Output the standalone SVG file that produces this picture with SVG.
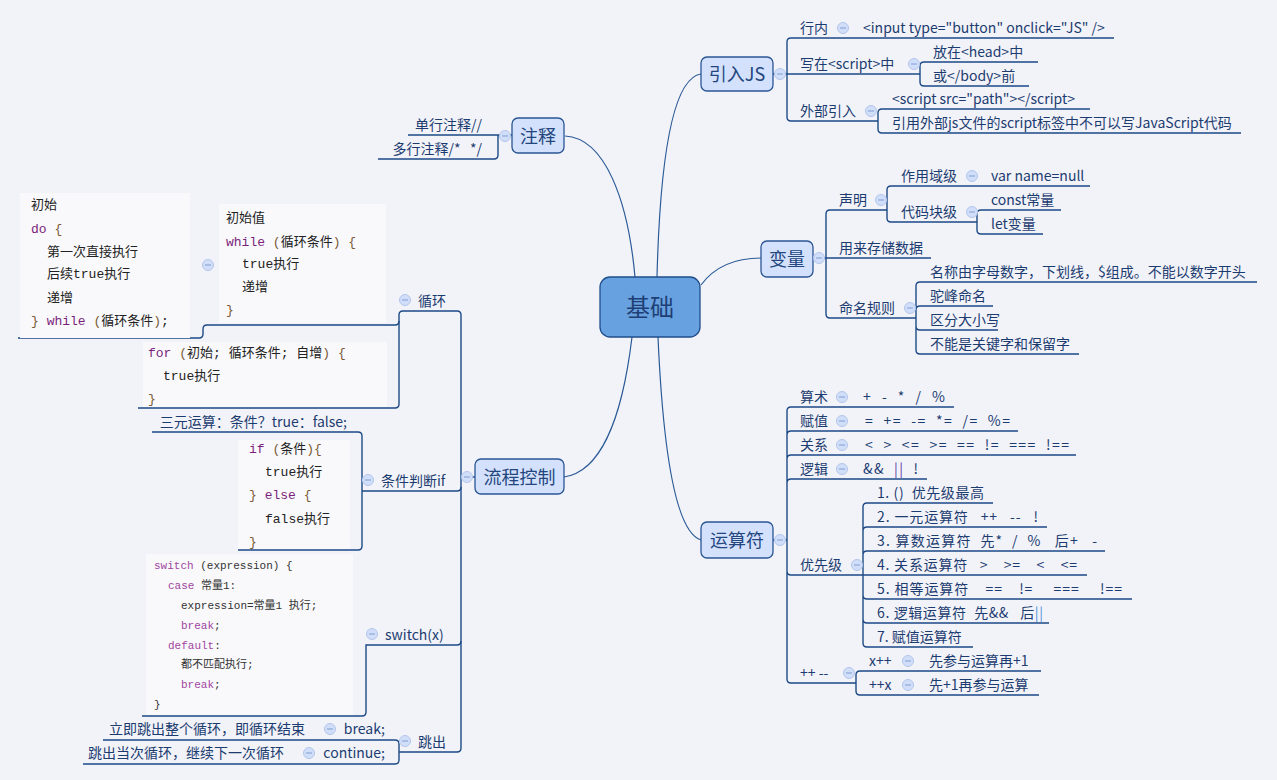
<svg xmlns="http://www.w3.org/2000/svg" width="1277" height="780" viewBox="0 0 1277 780">
<defs>
<style>
.bg{fill:#f2f3f9}
.t{font-family:"Noto Sans CJK SC","Noto Sans",sans-serif;font-size:14px;fill:#1c3c70;white-space:pre}
.e{text-anchor:end}
.m{font-family:"Noto Sans CJK SC","Noto Sans",sans-serif;font-size:18px;fill:#24467e;text-anchor:middle}
.root{font-family:"Noto Sans CJK SC","Noto Sans",sans-serif;font-size:24px;fill:#1e3f75;text-anchor:middle}
.box{fill:#d3e1fc;stroke:#2a5594;stroke-width:1.3}
.rootbox{fill:#68a1df;stroke:#1f4e8c;stroke-width:1.3}
.ln{fill:none;stroke:#1d4a86;stroke-width:1.4}
.cv{fill:none;stroke:#2b5a96;stroke-width:1.2}
.cb{fill:#f9f9fb}
.code{font-family:"Liberation Mono","Noto Sans CJK SC",monospace;font-size:13px;fill:#222;white-space:pre}
.sw{font-size:11px;fill:#333}
.kw{fill:#7b1f7b}
.kw2{fill:#a045a0}
.pn{fill:#7a5a35}
.pu{fill:#5a3aa0}
.lb{fill:#4a90d9}
</style>
<g id="col">
<circle r="5.5" fill="#d0defa" stroke="#b3c6ea" stroke-width="1"/>
<line x1="-3" y1="0" x2="3" y2="0" stroke="#8ea8d8" stroke-width="1.2"/>
</g>
</defs>
<rect class="bg" x="0" y="0" width="1277" height="780"/>

<g id="connectors">
<path class="cv" d="M635 277 C628 200 605 138 565 136"/>
<path class="cv" d="M657 277 C660 160 672 78 701 74"/>
<path class="cv" d="M701 285 C715 266 735 258 761 258"/>
<path class="cv" d="M632 337 C622 420 600 472 564 477"/>
<path class="cv" d="M658 337 C663 450 675 532 701 540"/>
<path class="ln" d="M773 74 H920"/>
<path class="ln" d="M787 42 V117"/>
<path class="ln" d="M787 42 Q787 38 791 38 H1114"/>
<path class="ln" d="M787 117 Q787 121 791 121 H878"/>
<path class="ln" d="M920 66 V82 M920 66 Q920 62 924 62 H1038 M920 82 Q920 86 924 86 H1029"/>
<path class="ln" d="M878 113 V129 M878 113 Q878 109 882 109 H1090 M878 129 Q878 133 882 133 H1241"/>
<path class="ln" d="M813 258 H931"/>
<path class="ln" d="M826 214 V314 M826 214 Q826 210 830 210 H887 M826 314 Q826 318 830 318 H916"/>
<path class="ln" d="M887 190 V218 M887 190 Q887 186 891 186 H1090 M887 218 Q887 222 891 222 H977"/>
<path class="ln" d="M977 214 V230 M977 214 Q977 210 981 210 H1061 M977 230 Q977 234 981 234 H1043"/>
<path class="ln" d="M916 286 V350 M916 286 Q916 282 920 282 H1257 M916 310 Q916 306 920 306 H993 M916 326 Q916 330 920 330 H998 M916 350 Q916 354 920 354 H1079"/>
<path class="ln" d="M773 540 H787"/>
<path class="ln" d="M787 411 V679 M787 411 Q787 407 791 407 H954 M787 435 Q787 431 791 431 H1018 M787 459 Q787 455 791 455 H1076 M787 483 Q787 479 791 479 H927 M787 571 Q787 575 791 575 H1087 M787 679 Q787 683 791 683 H856"/>
<path class="ln" d="M863 507 V643 M863 507 Q863 503 867 503 H993 M863 531 Q863 527 867 527 H1047 M863 555 Q863 551 867 551 H1105 M863 595 Q863 599 867 599 H1132 M863 619 Q863 623 867 623 H1049 M863 643 Q863 647 867 647 H973"/>
<path class="ln" d="M856 675 V691 M856 675 Q856 671 860 671 H1041 M856 691 Q856 695 860 695 H1039"/>
<path class="ln" d="M512 135 H408"/>
<path class="ln" d="M498 135 V155 Q498 159 494 159 H378"/>
<path class="ln" d="M475 477 H461"/>
<path class="ln" d="M461 315 V748"/>
<path class="ln" d="M461 315 Q461 311 457 311 H403 Q399 311 399 315 V404 Q399 408 395 408 H138"/>
<path class="ln" d="M399 321 Q399 325 395 325 H207 Q203 325 203 329 V334 Q203 338 199 338 H18"/>
<path class="ln" d="M461 487 Q461 491 457 491 H362"/>
<path class="ln" d="M152 432 H358 Q362 432 362 436 V546 Q362 550 358 550 H238"/>
<path class="ln" d="M461 641 Q461 645 457 645 H366 V712 Q366 716 362 716 H142"/>
<path class="ln" d="M461 748 Q461 752 457 752 H399"/>
<path class="ln" d="M103 740 H395 Q399 740 399 744 V760 Q399 764 395 764 H83"/>
</g>

<g id="root">
<rect class="rootbox" x="600" y="277" width="100" height="60" rx="10"/>
<text class="root" x="650" y="316">基础</text>
</g>

<g id="yinru">
<rect class="box" x="701" y="57" width="72" height="34" rx="6"/>
<text class="m" x="737" y="80.5">引入JS</text>
<use href="#col" x="780" y="74"/>
</g>
<g id="hangnei">
<text class="t" x="800" y="33">行内</text>
<use href="#col" x="843" y="28"/>
<text class="t" x="863" y="33">&lt;input type="button" onclick="JS" /&gt;</text>
</g>
<g id="xiezai">
<text class="t" x="800" y="69">写在&lt;script&gt;中</text>
<use href="#col" x="914" y="64"/>
<text class="t" x="933" y="57">放在&lt;head&gt;中</text>
<text class="t" x="933" y="81">或&lt;/body&gt;前</text>
</g>
<g id="waibu">
<text class="t" x="800" y="116">外部引入</text>
<use href="#col" x="871" y="111"/>
<text class="t" x="892" y="104">&lt;script src="path"&gt;&lt;/script&gt;</text>
<text class="t" x="892" y="128">引用外部js文件的script标签中不可以写JavaScript代码</text>
</g>

<g id="bianliang">
<rect class="box" x="761" y="241" width="52" height="36" rx="6"/>
<text class="m" x="787" y="265.5">变量</text>
<use href="#col" x="819" y="258"/>
</g>
<g id="shengming">
<text class="t" x="839" y="205">声明</text>
<use href="#col" x="881" y="200"/>
<text class="t" x="901" y="181">作用域级</text>
<use href="#col" x="972" y="176"/>
<text class="t" x="991" y="181">var name=null</text>
<text class="t" x="901" y="217">代码块级</text>
<use href="#col" x="972" y="212"/>
<text class="t" x="991" y="205">const常量</text>
<text class="t" x="991" y="229">let变量</text>
</g>
<g id="cunchu">
<text class="t" x="839" y="253">用来存储数据</text>
</g>
<g id="mingming">
<text class="t" x="839" y="313">命名规则</text>
<use href="#col" x="910" y="308"/>
<text class="t" x="930" y="277">名称由字母数字，下划线，$组成。不能以数字开头</text>
<text class="t" x="930" y="301">驼峰命名</text>
<text class="t" x="930" y="325">区分大小写</text>
<text class="t" x="930" y="349">不能是关键字和保留字</text>
</g>

<g id="yunsuanfu">
<rect class="box" x="701" y="522" width="72" height="36" rx="6"/>
<text class="m" x="737" y="546.5">运算符</text>
<use href="#col" x="780" y="540"/>
</g>
<g id="suanshu">
<text class="t" x="800" y="402">算术</text>
<use href="#col" x="842" y="397"/>
<text class="t" x="863" y="402" textLength="82" lengthAdjust="spacing">+  -  *  /  %</text>
</g>
<g id="fuzhi">
<text class="t" x="865" y="426" textLength="145" lengthAdjust="spacing">=  +=  -=  *=  /=  %=</text>
<text class="t" x="800" y="426">赋值</text>
<use href="#col" x="842" y="421"/>
</g>
<g id="guanxi">
<text class="t" x="800" y="450">关系</text>
<use href="#col" x="842" y="445"/>
<text class="t" x="865" y="450" textLength="204" lengthAdjust="spacing">&lt;  &gt;  &lt;=  &gt;=  ==  !=  ===  !==</text>
</g>
<g id="luoji">
<text class="t" x="800" y="474">逻辑</text>
<use href="#col" x="842" y="469"/>
<text class="t" x="863" y="474" textLength="55" lengthAdjust="spacing">&amp;&amp;  <tspan class="pu">||</tspan>  !</text>
</g>
<g id="youxianji">
<text class="t" x="800" y="570">优先级</text>
<use href="#col" x="857" y="565"/>
<text class="t" x="877" y="498" textLength="107" lengthAdjust="spacing">1. ()  优先级最高</text>
<text class="t" x="877" y="522" textLength="161" lengthAdjust="spacing">2. 一元运算符   ++   --   !</text>
<text class="t" x="877" y="546" textLength="220" lengthAdjust="spacing">3. 算数运算符  先*  /  %   后+   -</text>
<text class="t" x="877" y="570" textLength="200" lengthAdjust="spacing">4. 关系运算符   &gt;    &gt;=    &lt;    &lt;=</text>
<text class="t" x="877" y="594" textLength="245" lengthAdjust="spacing">5. 相等运算符    ==    !=     ===     !==</text>
<text class="t" x="877" y="618" textLength="166" lengthAdjust="spacing">6. 逻辑运算符  先&amp;&amp;   后<tspan class="lb">||</tspan></text>
<text class="t" x="877" y="642">7. 赋值运算符</text>
</g>
<g id="zizeng">
<text class="t" x="800" y="678">++ --</text>
<use href="#col" x="849" y="673"/>
<text class="t" x="869" y="666">x++</text>
<use href="#col" x="908" y="661"/>
<text class="t" x="929" y="666">先参与运算再+1</text>
<text class="t" x="869" y="690">++x</text>
<use href="#col" x="908" y="685"/>
<text class="t" x="929" y="690">先+1再参与运算</text>
</g>

<g id="zhushi">
<rect class="box" x="512" y="118" width="52" height="35" rx="6"/>
<text class="m" x="538" y="142.5">注释</text>
<use href="#col" x="505" y="136"/>
<text class="t e" x="482" y="130">单行注释//</text>
<text class="t e" x="482" y="154">多行注释/*   */</text>
</g>

<g id="liucheng">
<rect class="box" x="475" y="459" width="89" height="35" rx="6"/>
<text class="m" x="519.5" y="483.5">流程控制</text>
<use href="#col" x="467" y="477"/>
</g>

<g id="xunhuan">
<use href="#col" x="405" y="300"/>
<text class="t" x="418" y="306">循环</text>
</g>
<g id="while-block">
<rect class="cb" x="219" y="204" width="167" height="119"/>
<text class="code" x="226" y="222">初始值</text>
<text class="code" x="226" y="246"><tspan class="kw">while</tspan> <tspan class="pn">(</tspan>循环条件<tspan class="pn">)</tspan> <tspan class="pn">{</tspan></text>
<text class="code" x="242" y="268">true执行</text>
<text class="code" x="242" y="291">递增</text>
<text class="code" x="226" y="314"><tspan class="pn">}</tspan></text>
<use href="#col" x="208" y="265"/>
</g>
<g id="dowhile-block">
<rect class="cb" x="20" y="193" width="170" height="145"/>
<text class="code" x="31" y="209">初始</text>
<text class="code" x="31" y="233"><tspan class="kw">do</tspan> <tspan class="pn">{</tspan></text>
<text class="code" x="47" y="256">第一次直接执行</text>
<text class="code" x="47" y="278">后续true执行</text>
<text class="code" x="47" y="302">递增</text>
<text class="code" x="31" y="325"><tspan class="pn">}</tspan> <tspan class="kw">while</tspan> <tspan class="pn">(</tspan>循环条件<tspan class="pn">)</tspan>;</text>
</g>
<g id="for-block">
<rect class="cb" x="143" y="342" width="244" height="65"/>
<text class="code" x="148" y="357"><tspan class="kw">for</tspan> <tspan class="pn">(</tspan>初始; 循环条件; 自增<tspan class="pn">)</tspan> <tspan class="pn">{</tspan></text>
<text class="code" x="163" y="380">true执行</text>
<text class="code" x="148" y="403"><tspan class="pn">}</tspan></text>
</g>

<g id="tiaojian">
<use href="#col" x="368" y="480"/>
<text class="t" x="381" y="486">条件判断if</text>
</g>
<g id="sanyuan">
<text class="t e" x="347" y="427">三元运算：条件？true：false;</text>
</g>
<g id="if-block">
<rect class="cb" x="238" y="440" width="112" height="109"/>
<text class="code" x="249" y="453"><tspan class="kw">if</tspan> <tspan class="pn">(</tspan>条件<tspan class="pn">){</tspan></text>
<text class="code" x="265" y="476">true执行</text>
<text class="code" x="249" y="499"><tspan class="pn">}</tspan> <tspan class="kw">else</tspan> <tspan class="pn">{</tspan></text>
<text class="code" x="265" y="523">false执行</text>
<text class="code" x="249" y="546"><tspan class="pn">}</tspan></text>
</g>

<g id="switch">
<use href="#col" x="372" y="634"/>
<text class="t" x="385" y="640">switch(x)</text>
</g>
<g id="switch-block">
<rect class="cb" x="146" y="554" width="207" height="161"/>
<text class="code sw" x="154" y="569"><tspan class="kw2">switch</tspan> (expression) {</text>
<text class="code sw" x="168" y="589"><tspan class="kw2">case</tspan> 常量1:</text>
<text class="code sw" x="181" y="609">expression=常量1 执行;</text>
<text class="code sw" x="181" y="629"><tspan class="kw2">break</tspan>;</text>
<text class="code sw" x="168" y="649"><tspan class="kw2">default</tspan>:</text>
<text class="code sw" x="181" y="668">都不匹配执行;</text>
<text class="code sw" x="181" y="688"><tspan class="kw2">break</tspan>;</text>
<text class="code sw" x="154" y="708">}</text>
</g>

<g id="tiaochu">
<use href="#col" x="405" y="741"/>
<text class="t" x="418" y="747">跳出</text>
</g>
<g id="break">
<text class="t e" x="385" y="734">break;</text>
<use href="#col" x="330" y="729"/>
<text class="t e" x="305" y="734">立即跳出整个循环，即循环结束</text>
</g>
<g id="continue">
<text class="t e" x="385" y="758">continue;</text>
<use href="#col" x="309" y="753"/>
<text class="t e" x="284" y="758">跳出当次循环，继续下一次循环</text>
</g>
</svg>
